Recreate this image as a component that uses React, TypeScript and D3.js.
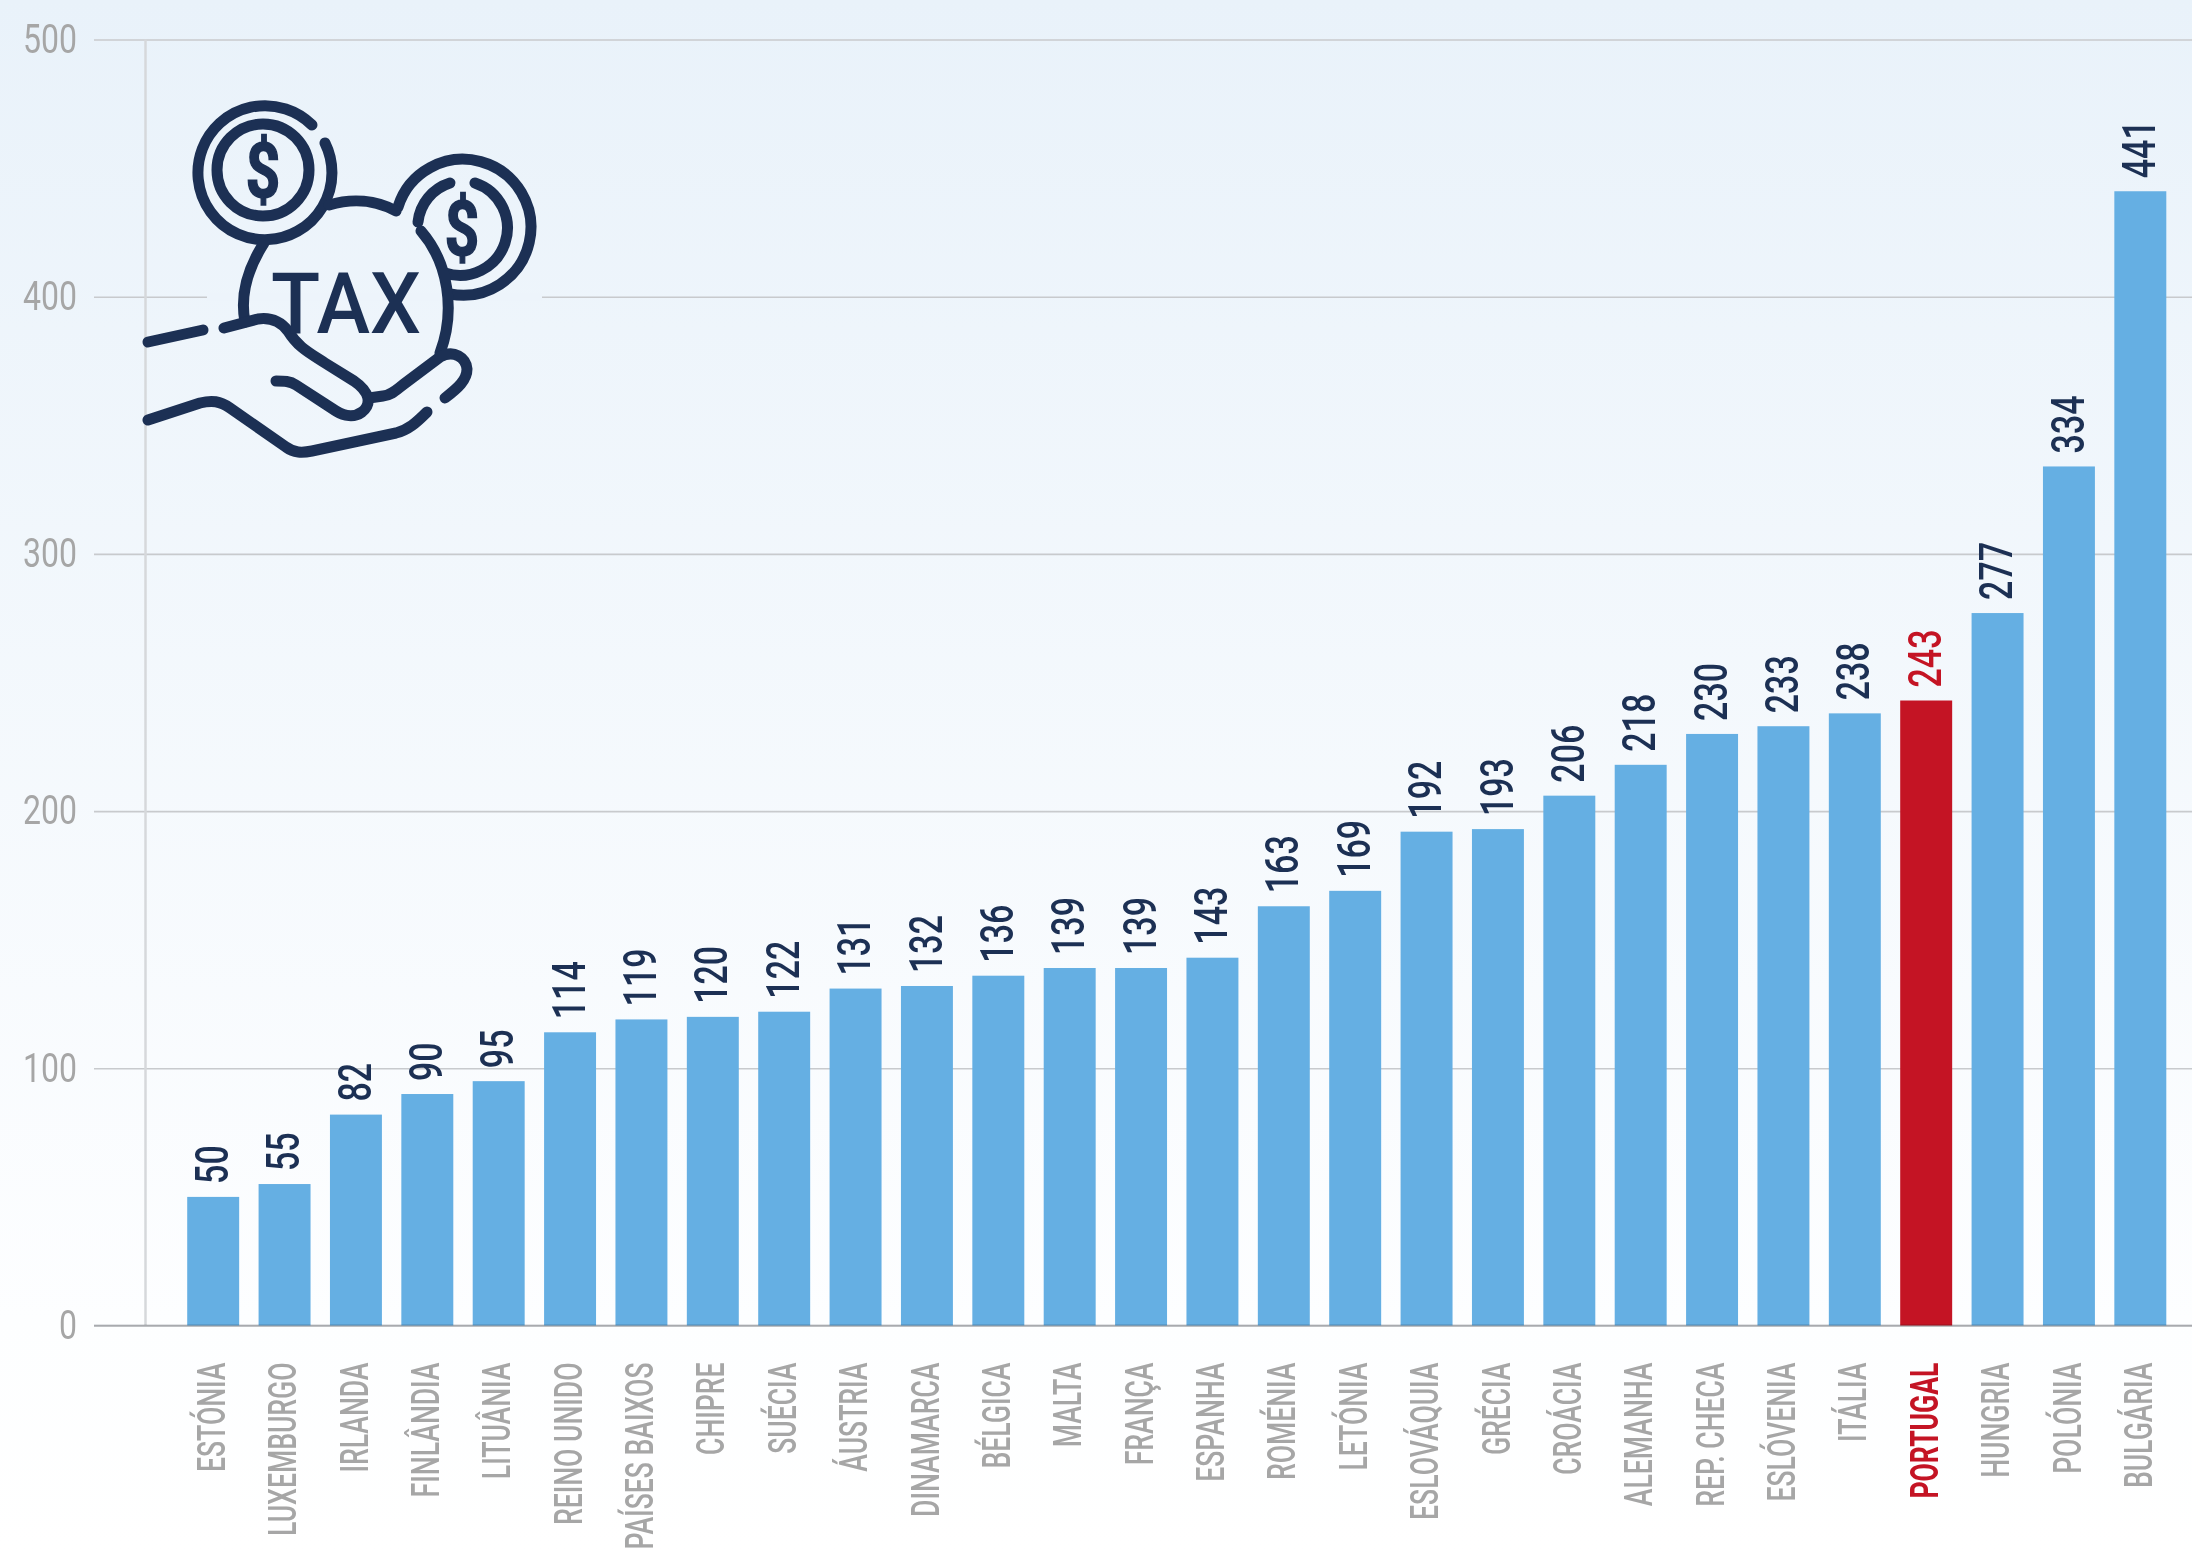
import { useEffect, useRef } from "react";
import * as d3 from "d3";

const countries = [
  "ESTÓNIA", "LUXEMBURGO", "IRLANDA", "FINLÂNDIA", "LITUÂNIA", "REINO UNIDO", "PAÍSES BAIXOS",
  "CHIPRE", "SUÉCIA", "ÁUSTRIA", "DINAMARCA", "BÉLGICA", "MALTA", "FRANÇA", "ESPANHA", "ROMÉNIA",
  "LETÓNIA", "ESLOVÁQUIA", "GRÉCIA", "CROÁCIA", "ALEMANHA", "REP. CHECA", "ESLÓVENIA", "ITÁLIA",
  "PORTUGAL", "HUNGRIA", "POLÓNIA", "BULGÁRIA",
];
const values = [
  50, 55, 82, 90, 95, 114, 119, 120, 122, 131, 132, 136, 139, 139, 143, 163, 169, 192, 193, 206,
  218, 230, 233, 238, 243, 277, 334, 441,
];
const yTicks = [0, 100, 200, 300, 400, 500];
const highlight = "PORTUGAL";

const W = 2192;
const H = 1552;
const FONT = "Roboto, sans-serif";
const NAVY = "#1c3054";
const RED = "#c41424";
const BLUE = "#65afe3";
const GREY = "#a6a6a6";
const GRID = "#c8cacd";

const xScale = d3
  .scaleBand<string>()
  .domain(countries)
  .range([177.5, 2176])
  .paddingInner(0.272)
  .paddingOuter(0.136);
const yScale = d3.scaleLinear().domain([0, 500]).range([1325.5, 39.5]);

// hand + coins icon, stroked by hand
const iconPaths = [
  // left coin
  "M312 125 A67 67 0 1 0 325 143",
  // right coin
  "M398 207 A68 68 0 1 1 450 294",
  "M450 183 A46 46 0 0 0 418 222",
  "M475 183 A46 46 0 0 1 445 273",
  // big circle
  "M264 243 C248 268 240 296 245 322",
  "M329 205 C352 198 376 200 396 211",
  "M421 231 C448 262 456 310 440 353",
  // hand
  "M148 342 L203 330",
  "M224 328 L258 319 C272 317 281 322 288 331 C298 347 308 352 325 363 L354 381 C370 392 372 404 362 412 C354 418 344 416 336 411 L296 385 C290 381 284 381 276 381",
  "M369 398 L383 396 C392 395 396 390 404 384 L440 357 C454 349 466 358 467 369 C467 380 458 388 445 398",
  "M148 420 L200 403 C212 400 220 401 230 408 L286 447 C294 453 302 453 312 451 L396 433 C408 430 416 423 427 412",
];

const App = () => {
  const axisRef = useRef<SVGGElement>(null);
  const catRef = useRef<SVGGElement>(null);

  useEffect(() => {
    const yAxis = d3
      .axisLeft(yScale)
      .tickValues(yTicks)
      .tickSize(-(W - 94))
      .tickFormat((d) => String(d));
    const g = d3.select(axisRef.current).call(yAxis as any);
    g.select(".domain").remove();
    g.selectAll(".tick line").attr("stroke", GRID).attr("stroke-width", 1.6);
    g.selectAll(".tick text")
      .attr("x", 0)
      .attr("transform", "translate(-17,0) scale(0.8,1)")
      .attr("fill", GREY)
      .style("font-family", FONT)
      .style("font-size", "40px");

    const xAxis = d3.axisBottom(xScale).tickSize(0);
    const c = d3.select(catRef.current).call(xAxis as any);
    c.select(".domain").remove();
    c.selectAll(".tick text")
      .attr("transform", "translate(-2,0) rotate(-90) translate(-37,0) scale(0.7,1)")
      .attr("x", 0)
      .attr("y", 0)
      .attr("dy", "0.36em")
      .attr("text-anchor", "end")
      .attr("fill", (d) => (d === highlight ? RED : GREY))
      .style("font-weight", (d) => (d === highlight ? 700 : 500))
      .style("font-family", FONT)
      .style("font-size", "38px");
  }, []);

  return (
    <svg
      width={W}
      height={H}
      viewBox={`0 0 ${W} ${H}`}
      style={{ position: "absolute", top: 0, left: 0, display: "block" }}
    >
      <defs>
        <linearGradient id="bg" x1="0" y1="0" x2="0" y2="1">
          <stop offset="0" stopColor="#e9f2fa" />
          <stop offset="0.85" stopColor="#fdfeff" />
          <stop offset="1" stopColor="#ffffff" />
        </linearGradient>
      </defs>
      <rect width={W} height={H} fill="url(#bg)" />

      <g ref={axisRef} transform="translate(94,0)" />
      <line x1={145.5} x2={145.5} y1={yScale(500)} y2={yScale(0)} stroke="#d6d8db" strokeWidth={2.5} />
      {/* gap in the 400 line behind the icon */}
      <rect x={207} y={yScale(400) - 4} width={335} height={8} fill="#edf4fb" />

      <g fill="none" stroke={NAVY} strokeWidth={11} strokeLinecap="round" strokeLinejoin="round">
        {iconPaths.map((d, i) => (
          <path key={i} d={d} />
        ))}
        <circle cx={263} cy={170} r={46} />
      </g>
      <g fill={NAVY} textAnchor="middle" fontFamily={FONT} fontWeight={700}>
        <text transform="translate(263,197) scale(0.8,1)" fontSize={76} stroke={NAVY} strokeWidth={1.5}>$</text>
        <text transform="translate(462,255) scale(0.8,1)" fontSize={76} stroke={NAVY} strokeWidth={1.5}>$</text>
        <text
          x={346}
          y={333}
          fontSize={86}
          fontWeight={500}
          textLength={150}
          lengthAdjust="spacingAndGlyphs"
        >
          TAX
        </text>
      </g>

      {countries.map((c, i) => (
        <rect
          key={c}
          x={xScale(c)}
          y={yScale(values[i])}
          width={xScale.bandwidth()}
          height={yScale(0) - yScale(values[i])}
          fill={c === highlight ? RED : BLUE}
        />
      ))}
      <line x1={94} x2={W} y1={yScale(0)} y2={yScale(0)} stroke={GRID} strokeWidth={2} style={{ mixBlendMode: "multiply" }} />

      {countries.map((c, i) => {
        const cx = xScale(c)! + xScale.bandwidth() / 2 - 2;
        const cy = yScale(values[i]) - 13;
        return (
          <text
            key={c}
            transform={`translate(${cx},${cy}) rotate(-90) scale(0.74,1)`}
            dy="0.36em"
            fill={c === highlight ? RED : NAVY}
            fontFamily={FONT}
            fontWeight={500}
            fontSize={46}
          >
            {values[i]}
          </text>
        );
      })}

      <g ref={catRef} transform={`translate(0,${yScale(0)})`} />
    </svg>
  );
};

export default App;
